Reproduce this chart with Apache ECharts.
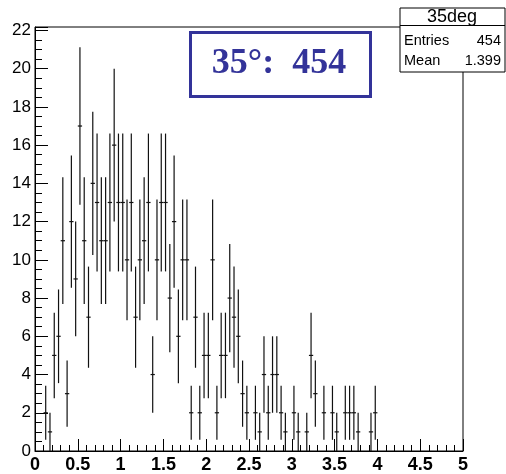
<!DOCTYPE html>
<html>
<head>
<meta charset="utf-8">
<script src="https://cdn.jsdelivr.net/npm/echarts@6/dist/echarts.min.js"></script>
<style>
html,body{margin:0;padding:0;background:#fff;}
#chart{width:506px;height:474px;}
</style>
</head>
<body>
<div id="chart"></div>
<script>
// Histogram "35deg": 100 bins from 0 to 5 (width 0.05); counts per bin
var xMin = 0;
var xMax = 5;
var binWidth = 0.05;
var counts = [
  0, 0, 2, 1, 5, 6, 11, 3, 12, 9,
  17, 11, 7, 14, 13, 11, 11, 13, 16, 13,
  13, 10, 13, 7, 10, 11, 13, 4, 10, 13,
  13, 8, 12, 6, 10, 10, 2, 7, 2, 5,
  5, 10, 2, 5, 5, 8, 7, 6, 3, 2,
  0, 2, 1, 4, 2, 4, 4, 2, 1, 0,
  2, 1, 0, 1, 5, 3, 0, 2, 0, 2,
  1, 0, 2, 2, 2, 1, 0, 0, 1, 2,
  0, 0, 0, 0, 0, 0, 0, 0, 0, 0,
  0, 0, 0, 0, 0, 0, 0, 0, 0, 0
];
var xTickLabels = ['0', '0.5', '1', '1.5', '2', '2.5', '3', '3.5', '4', '4.5', '5'];
var yTickLabels = ['0','2','4','6','8','10','12','14','16','18','20','22'];
var histName = '35deg';
var statEntries = '454';
var statMean = '1.399';
var labelText = '35°:  454';

var data = [];
for (var i = 0; i < counts.length; i++) {
  if (counts[i] > 0) {
    data.push([xMin + (i + 0.5) * binWidth, counts[i], Math.sqrt(counts[i])]);
  }
}

var chart = echarts.init(document.getElementById('chart'), null, {renderer: 'canvas'});
var blue = '#333399';
var option = {
  animation: false,
  backgroundColor: '#fff',
  grid: {left: 35, top: 27, width: 428, height: 425, show: true, borderColor: '#000', borderWidth: 1, backgroundColor: '#fff'},
  xAxis: {
    type: 'value', min: xMin, max: xMax, interval: 0.5,
    axisLine: {show: true, lineStyle: {color: '#000', width: 1}},
    axisTick: {show: true, inside: true, length: 12, lineStyle: {color: '#000'}},
    minorTick: {show: true, splitNumber: 5, length: 6, lineStyle: {color: '#000'}},
    splitLine: {show: false},
    axisLabel: {
      color: '#000', fontFamily: 'Liberation Sans, Arial', fontSize: 18, fontWeight: 'bold', margin: 5,
      formatter: function (v) {
        var k = Math.round(v / 0.5);
        return Math.abs(v - k * 0.5) < 1e-6 && xTickLabels[k] !== undefined ? xTickLabels[k] : '';
      }
    }
  },
  yAxis: {
    type: 'value', min: 0, max: 22.18, interval: 2,
    axisLine: {show: true, lineStyle: {color: '#000', width: 1}},
    axisTick: {show: true, inside: true, length: 13, lineStyle: {color: '#000'}},
    minorTick: {show: true, splitNumber: 4, length: 7, lineStyle: {color: '#000'}},
    splitLine: {show: false},
    axisLabel: {
      color: '#000', fontFamily: 'Liberation Sans, Arial', fontSize: 17, margin: 4,
      formatter: function (v) {
        var k = Math.round(v / 2);
        return Math.abs(v - k * 2) < 1e-6 && yTickLabels[k] !== undefined ? yTickLabels[k] : '';
      }
    }
  },
  series: [{
    type: 'custom',
    clip: true,
    data: data,
    renderItem: function (params, api) {
      var x = api.value(0), y = api.value(1), e = api.value(2);
      var pL = api.coord([x - binWidth / 2, y]);
      var pR = api.coord([x + binWidth / 2, y]);
      var pT = api.coord([x, y + e]);
      var pB = api.coord([x, Math.max(0, y - e)]);
      var st = {stroke: '#111', lineWidth: 1.2};
      return {
        type: 'group',
        children: [
          {type: 'line', shape: {x1: pL[0], y1: pL[1], x2: pR[0], y2: pR[1]}, style: st},
          {type: 'line', shape: {x1: pT[0], y1: pT[1], x2: pB[0], y2: pB[1]}, style: st}
        ]
      };
    }
  }],
  graphic: [
    // stat box
    {type: 'rect', left: 399.5, top: 7.5, shape: {width: 105, height: 64}, style: {fill: '#fff', stroke: '#000', lineWidth: 1}, z: 100},
    {type: 'line', shape: {x1: 400, y1: 25.5, x2: 505, y2: 25.5}, style: {stroke: '#000', lineWidth: 1}, z: 101},
    {type: 'text', x: 452, y: 17, style: {text: histName, fontFamily: 'Liberation Sans, Arial', fontSize: 18, fill: '#000', align: 'center', verticalAlign: 'middle'}, z: 101},
    {type: 'text', x: 404, y: 41, style: {text: 'Entries', fontFamily: 'Liberation Sans, Arial', fontSize: 14.5, fill: '#000', align: 'left', verticalAlign: 'middle'}, z: 101},
    {type: 'text', x: 501, y: 41, style: {text: statEntries, fontFamily: 'Liberation Sans, Arial', fontSize: 14.5, fill: '#000', align: 'right', verticalAlign: 'middle'}, z: 101},
    {type: 'text', x: 404, y: 61, style: {text: 'Mean', fontFamily: 'Liberation Sans, Arial', fontSize: 14.5, fill: '#000', align: 'left', verticalAlign: 'middle'}, z: 101},
    {type: 'text', x: 501, y: 61, style: {text: statMean, fontFamily: 'Liberation Sans, Arial', fontSize: 14.5, fill: '#000', align: 'right', verticalAlign: 'middle'}, z: 101},
    // label box
    {type: 'rect', left: 189, top: 31, shape: {width: 180, height: 64}, style: {fill: '#fff', stroke: blue, lineWidth: 3}, z: 100},
    {type: 'text', x: 279, y: 64, style: {text: labelText, fontFamily: 'Liberation Serif, Times New Roman, serif', fontWeight: 'bold', fontSize: 36, fill: blue, align: 'center', verticalAlign: 'middle'}, z: 101}
  ]
};
chart.setOption(option);
</script>
</body>
</html>
